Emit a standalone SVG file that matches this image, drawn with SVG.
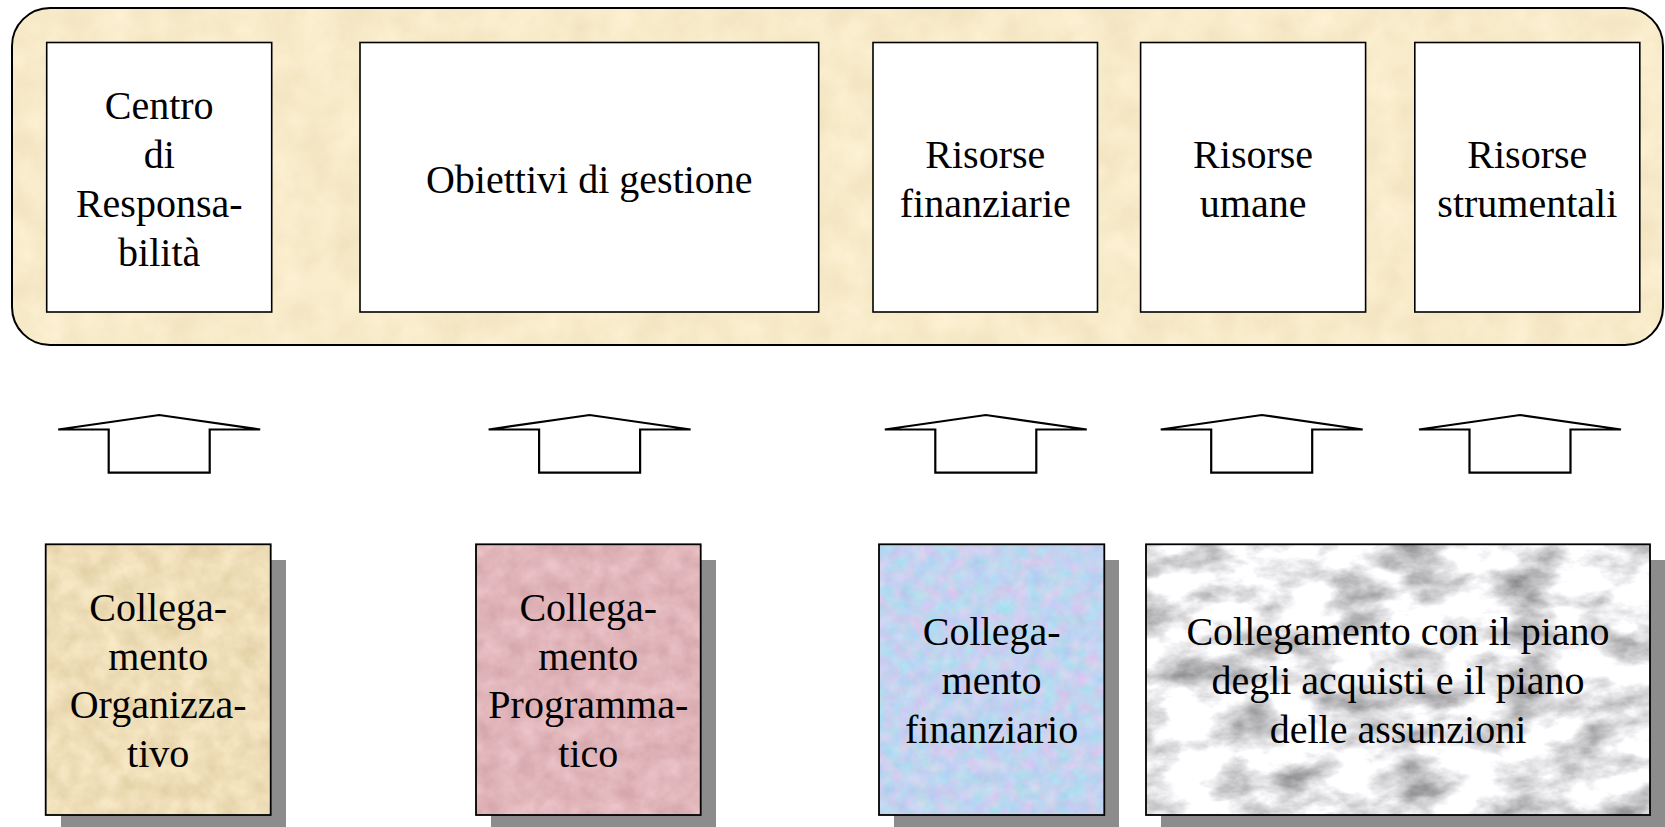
<svg xmlns="http://www.w3.org/2000/svg" width="1665" height="827" viewBox="0 0 1665 827">
  <style>
    .lbl { font-family: "Liberation Serif", "Times New Roman", serif; font-size: 40px; fill: #000; text-anchor: middle; }
    .wbox { fill: #ffffff; stroke: #000; stroke-width: 1.6; }
    .edge { fill: none; stroke: #000; stroke-width: 1.8; }
    .shadow { fill: #8c8c8c; }
    .arrow { fill: #ffffff; stroke: #000; stroke-width: 2.2; stroke-linejoin: miter; }
  </style>
  <defs>
    <filter id="texParchLight" x="0" y="0" width="1" height="1" color-interpolation-filters="sRGB">
      <feTurbulence type="fractalNoise" baseFrequency="0.03" numOctaves="4" seed="4" result="n"/>
      <feColorMatrix in="n" type="matrix" values="0.05 0 0 0 0.945  0.07 0 0 0 0.885  0.1 0 0 0 0.74  0 0 0 0 1" result="c"/>
      <feComposite in="c" in2="SourceAlpha" operator="in"/>
    </filter>
    <filter id="texParch" x="0" y="0" width="1" height="1" color-interpolation-filters="sRGB">
      <feTurbulence type="fractalNoise" baseFrequency="0.05" numOctaves="4" seed="7" result="n"/>
      <feColorMatrix in="n" type="matrix" values="0.12 0 0 0 0.875  0.14 0 0 0 0.8  0.18 0 0 0 0.63  0 0 0 0 1" result="c"/>
      <feComposite in="c" in2="SourceAlpha" operator="in"/>
    </filter>
    <filter id="texPink" x="0" y="0" width="1" height="1" color-interpolation-filters="sRGB">
      <feTurbulence type="fractalNoise" baseFrequency="0.05" numOctaves="4" seed="11" result="n"/>
      <feColorMatrix in="n" type="matrix" values="0.12 0 0 0 0.82  0.16 0 0 0 0.63  0.16 0 0 0 0.65  0 0 0 0 1" result="c"/>
      <feComposite in="c" in2="SourceAlpha" operator="in"/>
    </filter>
    <filter id="texBlue" x="0" y="0" width="1" height="1" color-interpolation-filters="sRGB">
      <feTurbulence type="fractalNoise" baseFrequency="0.07" numOctaves="3" seed="2" result="n"/>
      <feColorMatrix in="n" type="matrix" values="0.3 -0.1 0 0 0.66  -0.05 0.15 0 0 0.78  0 0 0.08 0 0.9  0 0 0 0 1" result="c"/>
      <feComposite in="c" in2="SourceAlpha" operator="in"/>
    </filter>
    <filter id="texMarble" x="0" y="0" width="1" height="1" color-interpolation-filters="sRGB">
      <feTurbulence type="fractalNoise" baseFrequency="0.018 0.035" numOctaves="5" seed="9" result="n"/>
      <feColorMatrix in="n" type="matrix" values="0.9 0 0 0 0.46  0.9 0 0 0 0.46  0.9 0 0 0 0.47  0 0 0 0 1" result="c"/>
      <feComposite in="c" in2="SourceAlpha" operator="in"/>
    </filter>
  </defs>

  <rect x="0" y="0" width="1665" height="827" fill="#ffffff"/>

  <g id="panel">
    <rect x="12" y="8" width="1651" height="337" rx="38" ry="38" fill="#f6e6c4" filter="url(#texParchLight)"/>
    <rect x="12" y="8" width="1651" height="337" rx="38" ry="38" fill="none" stroke="#000" stroke-width="2"/>
  </g>

  <g id="centro-responsabilita">
    <rect class="wbox" x="46.7" y="42.5" width="225" height="269.5"/>
    <text class="lbl" x="159.2" y="119.3">Centro</text>
    <text class="lbl" x="159.2" y="168.1">di</text>
    <text class="lbl" x="159.2" y="216.9">Responsa-</text>
    <text class="lbl" x="159.2" y="265.7">bilità</text>
  </g>

  <g id="obiettivi-gestione">
    <rect class="wbox" x="360" y="42.5" width="458.7" height="269.5"/>
    <text class="lbl" x="589.3" y="192.5">Obiettivi di gestione</text>
  </g>

  <g id="risorse-finanziarie">
    <rect class="wbox" x="873" y="42.5" width="224.5" height="269.5"/>
    <text class="lbl" x="985.3" y="168.1">Risorse</text>
    <text class="lbl" x="985.3" y="216.9">finanziarie</text>
  </g>

  <g id="risorse-umane">
    <rect class="wbox" x="1140.6" y="42.5" width="225" height="269.5"/>
    <text class="lbl" x="1253.1" y="168.1">Risorse</text>
    <text class="lbl" x="1253.1" y="216.9">umane</text>
  </g>

  <g id="risorse-strumentali">
    <rect class="wbox" x="1414.8" y="42.5" width="225" height="269.5"/>
    <text class="lbl" x="1527.3" y="168.1">Risorse</text>
    <text class="lbl" x="1527.3" y="216.9">strumentali</text>
  </g>

  <g id="connectors">
    <polygon class="arrow" points="58.2,429.5 159.2,415 260.2,429.5 209.7,429.5 209.7,472.7 108.7,472.7 108.7,429.5"/>
    <polygon class="arrow" points="488.6,429.5 589.6,415 690.6,429.5 640.1,429.5 640.1,472.7 539.1,472.7 539.1,429.5"/>
    <polygon class="arrow" points="884.8,429.5 985.8,415 1086.8,429.5 1036.3,429.5 1036.3,472.7 935.3,472.7 935.3,429.5"/>
    <polygon class="arrow" points="1160.7,429.5 1261.7,415 1362.7,429.5 1312.2,429.5 1312.2,472.7 1211.2,472.7 1211.2,429.5"/>
    <polygon class="arrow" points="1419,429.5 1520,415 1621,429.5 1570.5,429.5 1570.5,472.7 1469.5,472.7 1469.5,429.5"/>
  </g>

  <g id="collegamento-organizzativo">
    <rect class="shadow" x="61" y="560" width="225" height="271"/>
    <rect x="45.7" y="544.3" width="225" height="270.7" fill="#ecd9b3" filter="url(#texParch)"/>
    <rect class="edge" x="45.7" y="544.3" width="225" height="270.7"/>
    <text class="lbl" x="158.2" y="620.8">Collega-</text>
    <text class="lbl" x="158.2" y="669.6">mento</text>
    <text class="lbl" x="158.2" y="718.4">Organizza-</text>
    <text class="lbl" x="158.2" y="767.2">tivo</text>
  </g>

  <g id="collegamento-programmatico">
    <rect class="shadow" x="491" y="560" width="225" height="271"/>
    <rect x="476" y="544.3" width="224.7" height="270.7" fill="#e1b4b8" filter="url(#texPink)"/>
    <rect class="edge" x="476" y="544.3" width="224.7" height="270.7"/>
    <text class="lbl" x="588.3" y="620.8">Collega-</text>
    <text class="lbl" x="588.3" y="669.6">mento</text>
    <text class="lbl" x="588.3" y="718.4">Programma-</text>
    <text class="lbl" x="588.3" y="767.2">tico</text>
  </g>

  <g id="collegamento-finanziario">
    <rect class="shadow" x="894" y="560" width="225" height="271"/>
    <rect x="879" y="544.3" width="225.3" height="270.7" fill="#bcd4f2" filter="url(#texBlue)"/>
    <rect class="edge" x="879" y="544.3" width="225.3" height="270.7"/>
    <text class="lbl" x="991.6" y="645.2">Collega-</text>
    <text class="lbl" x="991.6" y="694">mento</text>
    <text class="lbl" x="991.6" y="742.8">finanziario</text>
  </g>

  <g id="collegamento-piani">
    <rect class="shadow" x="1161" y="560" width="504" height="271"/>
    <rect x="1146" y="544.3" width="504" height="270.7" fill="#e8e8e8" filter="url(#texMarble)"/>
    <rect class="edge" x="1146" y="544.3" width="504" height="270.7"/>
    <text class="lbl" x="1398" y="645.2">Collegamento con il piano</text>
    <text class="lbl" x="1398" y="694">degli acquisti e il piano</text>
    <text class="lbl" x="1398" y="742.8">delle assunzioni</text>
  </g>
</svg>
